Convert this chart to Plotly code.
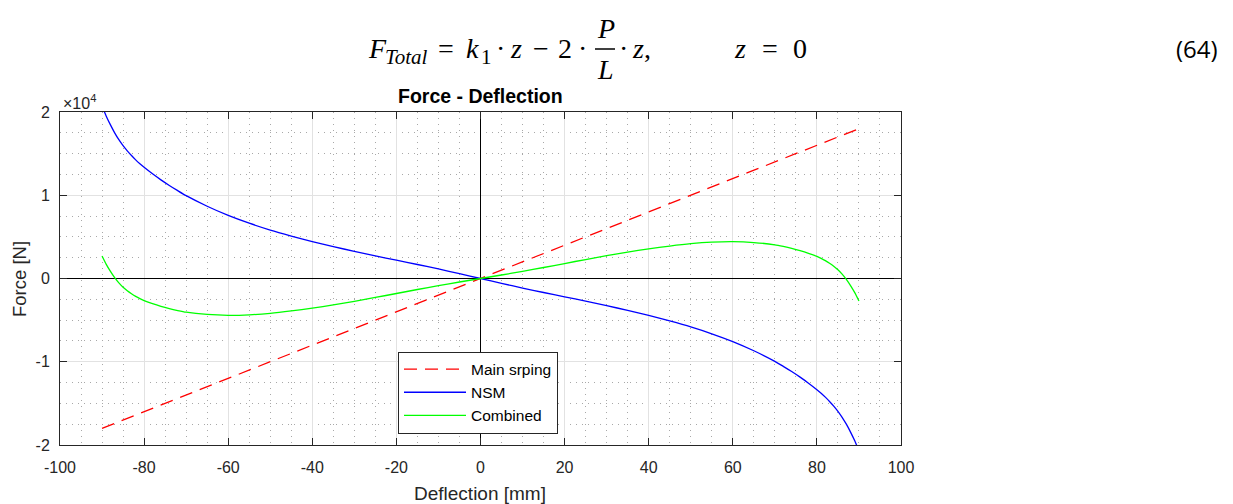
import plotly.graph_objects as go

# ---------------- data (force in N, deflection in mm) ----------------
deflection = [-90, -89, -88, -87, -86, -85, -84, -83, -82, -81, -80, -78, -76, -74, -72, -70,
              -65, -60, -55, -50, -45, -40, -35, -30, -25, -20, -15, -10, -5, 0,
              5, 10, 15, 20, 25, 30, 35, 40, 45, 50, 55, 60, 65, 70,
              72, 74, 76, 78, 80, 81, 82, 83, 84, 85, 86, 87, 88, 89, 90]

nsm_force = [20700, 19500, 18450, 17500, 16670, 15950, 15330, 14770, 14250, 13780, 13350,
             12570, 11850, 11180, 10550, 9950, 8680, 7580, 6640, 5820, 5100, 4430, 3830,
             3260, 2720, 2200, 1680, 1150, 580, 0,
             -580, -1150, -1680, -2200, -2720, -3260, -3830, -4430, -5100, -5820, -6640,
             -7580, -8680, -9950, -10550, -11180, -11850, -12570, -13350, -13780, -14250,
             -14770, -15330, -15950, -16670, -17500, -18450, -19500, -20700]

combined_force = [2700, 1700, 850, 100, -530, -1050, -1470, -1830, -2150, -2420, -2650, -3030,
                  -3350, -3620, -3850, -4050, -4320, -4420, -4360, -4180, -3900, -3570, -3170,
                  -2740, -2280, -1800, -1320, -850, -420, 0,
                  420, 850, 1320, 1800, 2280, 2740, 3170, 3570, 3900, 4180, 4360, 4420, 4320,
                  4050, 3850, 3620, 3350, 3030, 2650, 2420, 2150, 1830, 1470, 1050, 530, -100,
                  -850, -1700, -2700]

main_x = [-90, 90]
main_force = [-18000, 18000]

x_ticks = [-100, -80, -60, -40, -20, 0, 20, 40, 60, 80, 100]
x_tick_text = ["-100", "-80", "-60", "-40", "-20", "0", "20", "40", "60", "80", "100"]
y_ticks = [-20000, -10000, 0, 10000, 20000]
y_tick_text = ["-2", "-1", "0", "1", "2"]

# ---------------- geometry helpers ----------------
W, H = 1233, 504
L, R, T, B = 60, 901, 112, 445


def px(x):
    return (x - L) / (R - L)


def py(y):
    return (B - y) / (B - T)


AX = "#262626"
FONT = "Liberation Sans, Arial, Helvetica, sans-serif"

fig = go.Figure()
fig.add_trace(go.Scatter(x=main_x, y=main_force, mode="lines", name="Main srping",
                         line=dict(color="#ff0000", width=1.3, dash="13px,8px")))
fig.add_trace(go.Scatter(x=deflection, y=nsm_force, mode="lines", name="NSM",
                         line=dict(color="#0000ff", width=1.3, shape="spline", smoothing=0.6)))
fig.add_trace(go.Scatter(x=deflection, y=combined_force, mode="lines", name="Combined",
                         line=dict(color="#00ff00", width=1.3, shape="spline", smoothing=0.6)))

axis_common = dict(
    showline=True, linecolor=AX, linewidth=1, mirror="ticks",
    ticks="inside", ticklen=7, tickcolor=AX, tickwidth=1,
    showgrid=True, gridcolor="#e2e2e2", gridwidth=1,
    zeroline=True, zerolinecolor="#000000", zerolinewidth=1.3,
    tickfont=dict(family=FONT, size=16, color=AX),
)

fig.update_xaxes(range=[-100, 100], tickvals=x_ticks, ticktext=x_tick_text,
                 ticklabelstandoff=8,
                 minor=dict(dtick=5, tick0=0, showgrid=True, gridcolor="#a8a8a8",
                            griddash="1px,5px", gridwidth=1),
                 **axis_common)
fig.update_yaxes(range=[-20000, 20000], tickvals=y_ticks, ticktext=y_tick_text,
                 ticklabelstandoff=6,
                 minor=dict(dtick=2500, tick0=0, showgrid=True, gridcolor="#a8a8a8",
                            griddash="1px,5px", gridwidth=1),
                 **axis_common)

ann = []


def text(x, y, s, size, family=FONT, color="#000000", xanchor="center", angle=0):
    ann.append(dict(x=px(x), y=py(y), text=s, showarrow=False, textangle=angle,
                    xref="paper", yref="paper", xanchor=xanchor, yanchor="middle",
                    font=dict(family=family, size=size, color=color)))


# title and axis titles
text(480, 96, "<b>Force - Deflection</b>", 19.5)
text(480, 493, "Deflection [mm]", 19, color=AX)
text(19, 279, "Force [N]", 18.5, color=AX, angle=-90)
text(61, 102, "×10<sup>4</sup>", 16, color=AX, xanchor="left")

# equation above the chart
EQF = "Liberation Serif, DejaVu Serif, serif"
ES = 28
SS = 21
ey = 49
text(366, ey, "<i>F</i>", ES, family=EQF, xanchor="left")
text(383, ey + 8, "<i>Total</i>", SS, family=EQF, xanchor="left")
text(446, ey, "=", ES, family=EQF)
text(464, ey, "<i>k</i>", ES, family=EQF, xanchor="left")
text(479, ey + 8, "1", SS, family=EQF, xanchor="left")
text(501, ey, "·", ES, family=EQF)
text(516, ey, "<i>z</i>", ES, family=EQF)
text(541, ey, "−", ES, family=EQF)
text(565, ey, "2", ES, family=EQF)
text(582, ey, "·", ES, family=EQF)
text(606, 29, "<i>P</i>", ES, family=EQF)
text(605, 70, "<i>L</i>", ES, family=EQF)
text(623, ey, "·", ES, family=EQF)
text(630, ey, "<i>z</i>,", ES, family=EQF, xanchor="left")
text(740, ey, "<i>z</i>", ES, family=EQF)
text(770, ey, "=", ES, family=EQF)
text(800, ey, "0", ES, family=EQF)
text(1220, ey, "(64)", 24, family="Open Sans, Liberation Sans, sans-serif", xanchor="right")

shapes = [dict(type="line", xref="paper", yref="paper", x0=px(595), x1=px(615),
               y0=py(ey), y1=py(ey), line=dict(color="#000000", width=1.5))]

fig.update_layout(
    width=W, height=H,
    margin=dict(l=L, r=W - R, t=T, b=H - B, pad=0),
    paper_bgcolor="#ffffff", plot_bgcolor="#ffffff",
    showlegend=True,
    legend=dict(x=px(398), y=py(351.5), xanchor="left", yanchor="top",
                bgcolor="#ffffff", bordercolor=AX, borderwidth=1,
                font=dict(family=FONT, size=15.5, color="#000000"),
                itemwidth=62, tracegroupgap=0),
    annotations=ann, shapes=shapes,
)

fig.write_html("out.html")
